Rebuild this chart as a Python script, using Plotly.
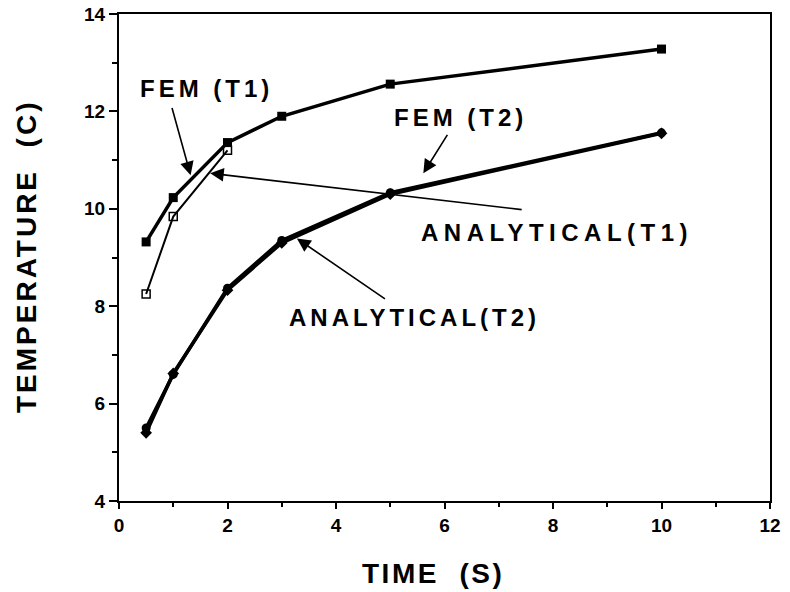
import plotly.graph_objects as go

time_fem = [0.5, 1, 2, 3, 5, 10]
fem_t1 = [9.32, 10.23, 11.36, 11.9, 12.56, 13.28]
time_an1 = [0.5, 1, 2]
analytical_t1 = [8.25, 9.84, 11.20]
fem_t2 = [5.5, 6.6, 8.37, 9.35, 10.33, 11.56]
analytical_t2 = [5.40, 6.62, 8.33, 9.30, 10.30, 11.55]

x_ticks = [0, 2, 4, 6, 8, 10, 12]
y_ticks = [4, 6, 8, 10, 12, 14]

FONT = "Liberation Sans"

def spaced(s, sp):
    return f'<span style="letter-spacing:{sp}px">{s}</span>'

fig = go.Figure()
fig.add_trace(go.Scatter(x=time_an1, y=analytical_t1, mode="lines+markers", name="ANALYTICAL(T1)",
                         line=dict(color="black", width=2),
                         marker=dict(symbol="square-open", size=8, color="black", line=dict(width=1.5))))
fig.add_trace(go.Scatter(x=time_fem, y=fem_t1, mode="lines+markers", name="FEM (T1)",
                         line=dict(color="black", width=3.5),
                         marker=dict(symbol="square", size=9, color="black")))
fig.add_trace(go.Scatter(x=time_fem, y=analytical_t2, mode="lines+markers", name="ANALYTICAL(T2)",
                         line=dict(color="black", width=3.5),
                         marker=dict(symbol="diamond", size=9, color="black")))
fig.add_trace(go.Scatter(x=time_fem, y=fem_t2, mode="lines+markers", name="FEM (T2)",
                         line=dict(color="black", width=3.5),
                         marker=dict(symbol="circle", size=9, color="black")))

afont = dict(family=FONT, size=24, color="black", weight="bold")

texts = [
    ("FEM (T1)", 1.62, 12.48, 4),
    ("FEM (T2)", 6.29, 11.88, 4),
    ("ANALYTICAL(T1)", 8.07, 9.52, 5.5),
    ("ANALYTICAL(T2)", 5.44, 7.76, 4),
]
for t, x, y, sp in texts:
    fig.add_annotation(x=x, y=y, xref="x", yref="y", text=spaced(t, sp), showarrow=False, font=afont)

arrows = [
    (0.97, 12.10, 1.32, 10.69),
    (6.07, 11.55, 5.61, 10.73),
    (7.45, 9.98, 1.68, 10.73),
    (4.93, 8.13, 3.28, 9.39),
]
for ax, ay, x, y in arrows:
    fig.add_annotation(x=x, y=y, ax=ax, ay=ay, xref="x", yref="y", axref="x", ayref="y",
                       text="", showarrow=True, arrowhead=2, arrowsize=1.7, arrowwidth=1.6,
                       arrowcolor="black")

# body margin is removed in the page (post_script), so figure pixels == screen pixels
W, H = 790, 592
L, T = 119, 14
R = W - 770
B = H - 501
pw, ph = W - L - R, H - T - B

def px_to_paper(sx, sy):
    return (sx - L) / pw, (H - sy - B) / ph

tfont = dict(family=FONT, size=28, color="black", weight="bold")
x0, y0 = px_to_paper(433, 573)
fig.add_annotation(x=x0, y=y0, xref="paper", yref="paper", text=spaced("TIME  (S)", 2.5),
                   showarrow=False, font=tfont, xanchor="center", yanchor="middle")
x1, y1 = px_to_paper(26, 257)
fig.add_annotation(x=x1, y=y1, xref="paper", yref="paper", text=spaced("TEMPERATURE  (C)", 3),
                   showarrow=False, font=tfont, textangle=-90, xanchor="center", yanchor="middle")

tickfont = dict(family=FONT, size=19, color="black", weight="bold")
fig.update_layout(
    width=W, height=H,
    margin=dict(l=L, r=R, t=T, b=B, autoexpand=False),
    paper_bgcolor="white", plot_bgcolor="white",
    showlegend=False,
    xaxis=dict(range=[0, 12], tickvals=x_ticks, ticktext=[str(v) for v in x_ticks], automargin=False,
               ticklabeloverflow="allow",
               showgrid=False, zeroline=False, showline=True, linecolor="black", linewidth=2,
               mirror=True, ticks="outside", ticklen=6, tickwidth=1.5, tickcolor="black",
               minor=dict(dtick=1, ticks="outside", ticklen=4, tickcolor="black"),
               tickfont=tickfont),
    yaxis=dict(range=[4, 14], tickvals=y_ticks, ticktext=[str(v) for v in y_ticks], automargin=False,
               ticklabeloverflow="allow",
               showgrid=False, zeroline=False, showline=True, linecolor="black", linewidth=2,
               mirror=True, ticks="outside", ticklen=8, tickwidth=1.5, tickcolor="black",
               minor=dict(dtick=1, ticks="outside", ticklen=5, tickcolor="black"),
               tickfont=tickfont),
)

fig.write_html("out.html",
               config={"displayModeBar": False},
               post_script="document.body.style.margin='0';document.body.style.overflow='hidden';")
